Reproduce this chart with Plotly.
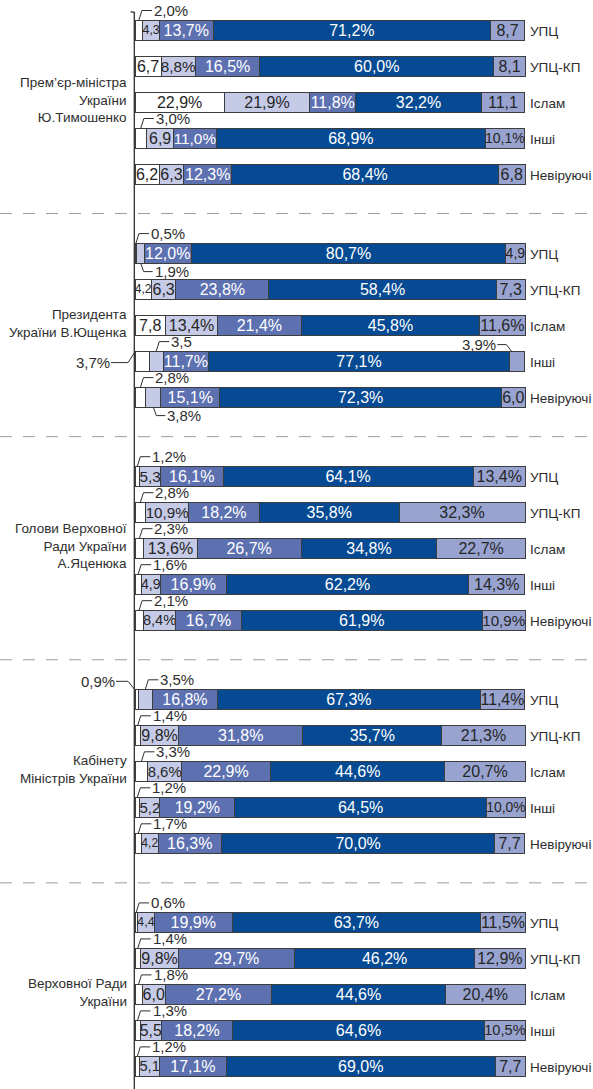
import plotly.graph_objects as go

# ---------------------------------------------------------------- data
categories = ["УПЦ", "УПЦ-КП", "Іслам", "Інші", "Невіруючі"]

group_labels = [
    "Прем’єр-міністра<br>України<br>Ю.Тимошенко",
    "Президента<br>України В.Ющенка",
    "Голови Верховної<br>Ради України<br>А.Яценюка",
    "Кабінету<br>Міністрів України",
    "Верховної Ради<br>України",
]

# answer shares (%), five rows per group, groups in order of group_labels
resp_a = [2.0, 6.7, 22.9, 3.0, 6.2,
          0.5, 4.2, 7.8, 3.7, 2.8,
          1.2, 2.8, 2.3, 1.6, 2.1,
          0.9, 1.4, 3.3, 1.2, 1.7,
          0.6, 1.4, 1.8, 1.3, 1.2]
resp_b = [4.3, 8.8, 21.9, 6.9, 6.3,
          1.9, 6.3, 13.4, 3.5, 3.8,
          5.3, 10.9, 13.6, 4.9, 8.4,
          3.5, 9.8, 8.6, 5.2, 4.2,
          4.4, 9.8, 6.0, 5.5, 5.1]
resp_c = [13.7, 16.5, 11.8, 11.0, 12.3,
          12.0, 23.8, 21.4, 11.7, 15.1,
          16.1, 18.2, 26.7, 16.9, 16.7,
          16.8, 31.8, 22.9, 19.2, 16.3,
          19.9, 29.7, 27.2, 18.2, 17.1]
resp_d = [71.2, 60.0, 32.2, 68.9, 68.4,
          80.7, 58.4, 45.8, 77.1, 72.3,
          64.1, 35.8, 34.8, 62.2, 61.9,
          67.3, 35.7, 44.6, 64.5, 70.0,
          63.7, 46.2, 44.6, 64.6, 69.0]
resp_e = [8.7, 8.1, 11.1, 10.1, 6.8,
          4.9, 7.3, 11.6, 3.9, 6.0,
          13.4, 32.3, 22.7, 14.3, 10.9,
          11.4, 21.3, 20.7, 10.0, 7.7,
          11.5, 12.9, 20.4, 10.5, 7.7]

# label kind per value: n = inside, p = inside with "%",
# U/u = callout above (with / without "%"), D = callout below,
# L = callout on the left, M = raised callout on the left, R = raised callout on the right
mode_a = ["U", "n", "p", "U", "n",
          "U", "n", "n", "L", "U",
          "U", "U", "U", "U", "U",
          "M", "U", "U", "U", "U",
          "U", "U", "U", "U", "U"]
mode_b = ["n", "p", "p", "n", "n",
          "D", "n", "p", "u", "D",
          "n", "p", "p", "n", "p",
          "U", "p", "p", "n", "n",
          "n", "p", "n", "n", "n"]
mode_c = ["p"] * 25
mode_d = ["p"] * 25
mode_e = ["n", "n", "n", "p", "n",
          "n", "n", "p", "R", "n",
          "p", "p", "p", "p", "p",
          "p", "p", "p", "p", "n",
          "p", "p", "p", "p", "n"]

series = [resp_a, resp_b, resp_c, resp_d, resp_e]
modes = [mode_a, mode_b, mode_c, mode_d, mode_e]

# ---------------------------------------------------------------- style
W, H = 593, 1089
PX_PER_PCT = 3.9          # horizontal pixels per percentage point
X0_PX = 135               # pixel position of the 0 % edge
ROW0, GROUP_STEP, ROW_STEP, BAR_H = 30.0, 223.1, 36.0, 20.0

fills = ["#ffffff", "#c5cae6", "#5d71b1", "#054a93", "#98a3d0"]
text_cols = ["#262626", "#262626", "#ffffff", "#ffffff", "#262626"]
EDGE = "#3d3d3d"
INK = "#2e2e2e"
FONT = "Liberation Sans, Arial, sans-serif"
NUM_SIZE = 16
CALLOUT_SIZE = 15
CAT_SIZE = 13.5
GROUP_SIZE = 13.5


def dx(p):
    """pixels -> x-axis units"""
    return p / PX_PER_PCT


def fmt(v, pct):
    s = f"{v:.1f}".replace(".", ",")
    return s + "%" if pct else s


CHAR_EM = {",": 0.278, "%": 0.889}


def fit_size(label, v):
    em = sum(CHAR_EM.get(ch, 0.556) for ch in label)
    room = v * PX_PER_PCT + 0.5
    return max(9.0, min(NUM_SIZE, room / em))


n_groups = len(group_labels)
n_cat = len(categories)
rows_y = [ROW0 + g * GROUP_STEP + r * ROW_STEP for g in range(n_groups) for r in range(n_cat)]

fig = go.Figure()
annotations = []
shapes = []

starts = [0.0] * len(rows_y)
for k, (vals, mds) in enumerate(zip(series, modes)):
    texts, sizes = [], []
    for i, (v, m) in enumerate(zip(vals, mds)):
        if m in ("n", "p"):
            lab = fmt(v, m == "p")
            texts.append(lab)
            sizes.append(fit_size(lab, v))
        else:
            texts.append("")
            sizes.append(NUM_SIZE)
            y = rows_y[i]
            s0 = starts[i]
            cx = s0 + v / 2
            top, bot = y - BAR_H / 2, y + BAR_H / 2
            lab = fmt(v, m != "u")
            if m in ("U", "u"):
                ty = y - 19.5
                path = f"M{cx},{top} L{cx + dx(3)},{ty} L{cx + dx(13)},{ty}"
                tx, anchor = cx + dx(14), "left"
            elif m == "D":
                ty = y + 18.5
                path = f"M{cx},{bot} L{cx + dx(3)},{ty} L{cx + dx(12)},{ty}"
                tx, anchor = cx + dx(13), "left"
            elif m == "L":
                ty = y + 1.5
                path = f"M{dx(-24)},{ty} L{dx(-7)},{ty} L{s0 + dx(0.5)},{top}"
                tx, anchor = dx(-24.5), "right"
            elif m == "M":
                ty = y - 18
                path = f"M{dx(-19)},{ty} L{dx(-7)},{ty} L{s0 - dx(0.5)},{top}"
                tx, anchor = dx(-19.5), "right"
            else:  # "R"
                ty = y - 16.5
                path = f"M{s0 - dx(12)},{ty} L{s0 - dx(3)},{ty} L{s0 + dx(2)},{top}"
                tx, anchor = s0 - dx(12.5), "right"
            shapes.append(dict(type="path", path=path, xref="x", yref="y",
                               line=dict(color=INK, width=1)))
            annotations.append(dict(x=tx, y=ty, xref="x", yref="y", text=lab,
                                    showarrow=False, xanchor=anchor, yanchor="middle",
                                    borderpad=0,
                                    font=dict(family=FONT, size=CALLOUT_SIZE, color=INK)))
    fig.add_trace(go.Bar(
        x=vals, y=rows_y, orientation="h", width=BAR_H,
        marker=dict(color=fills[k], line=dict(color=EDGE, width=1)),
        text=texts, textposition="inside", insidetextanchor="middle",
        constraintext="none", textangle=0,
        textfont=dict(family=FONT, size=sizes, color=text_cols[k]),
        hoverinfo="skip", showlegend=False,
    ))
    starts = [s + v for s, v in zip(starts, vals)]

# category names to the right of every bar
for i, y in enumerate(rows_y):
    annotations.append(dict(x=100 + dx(4), y=y + 1.5, xref="x", yref="y",
                            text=categories[i % n_cat], showarrow=False,
                            xanchor="left", yanchor="middle", borderpad=0,
                            font=dict(family=FONT, size=CAT_SIZE, color=INK)))

# group names on the left
for g, lab in enumerate(group_labels):
    yc = rows_y[g * n_cat + 2]
    annotations.append(dict(x=dx(-7), y=yc - 2, xref="x", yref="y", text=lab,
                            showarrow=False, xanchor="right", yanchor="middle",
                            align="right", borderpad=0,
                            font=dict(family=FONT, size=GROUP_SIZE, color=INK)))

# dashed separators between groups
for g in range(n_groups - 1):
    y_sep = (rows_y[g * n_cat + n_cat - 1] + rows_y[(g + 1) * n_cat]) / 2
    shapes.append(dict(type="line", xref="paper", yref="y", x0=0, x1=1,
                       y0=y_sep, y1=y_sep,
                       line=dict(color="#9c9c9c", width=1, dash="12px,11px")))

# vertical axis line with its top tick
AX_TOP = 12
shapes.append(dict(type="line", xref="x", yref="y", x0=dx(-0.7), x1=dx(-0.7),
                   y0=AX_TOP, y1=H, line=dict(color=INK, width=1.3)))
shapes.append(dict(type="line", xref="x", yref="y", x0=dx(-4.5), x1=dx(-0.7),
                   y0=AX_TOP, y1=AX_TOP, line=dict(color=INK, width=1.3)))

fig.update_layout(
    width=W, height=H,
    margin=dict(l=0, r=0, t=0, b=0),
    barmode="stack",
    paper_bgcolor="white", plot_bgcolor="white",
    xaxis=dict(range=[-X0_PX / PX_PER_PCT, (W - X0_PX) / PX_PER_PCT],
               visible=False, fixedrange=True),
    yaxis=dict(range=[H, 0], visible=False, fixedrange=True),
    annotations=annotations,
    shapes=shapes,
    showlegend=False,
)

fig.write_html("out.html")
